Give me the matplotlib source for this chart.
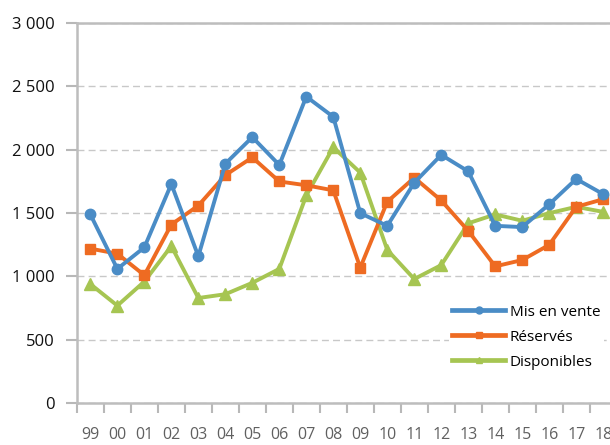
import matplotlib
matplotlib.use("Agg")
import matplotlib.pyplot as plt
from matplotlib.ticker import FixedLocator, FuncFormatter

years = ["99", "00", "01", "02", "03", "04", "05", "06", "07", "08",
         "09", "10", "11", "12", "13", "14", "15", "16", "17", "18"]
mis_en_vente = [1490, 1060, 1230, 1730, 1160, 1890, 2100, 1880, 2420, 2260,
                1500, 1400, 1740, 1960, 1830, 1400, 1390, 1570, 1770, 1650]
reserves = [1220, 1180, 1010, 1410, 1560, 1800, 1940, 1750, 1720, 1680,
            1070, 1590, 1780, 1600, 1360, 1080, 1130, 1250, 1550, 1610]
disponibles = [940, 770, 960, 1240, 830, 860, 950, 1060, 1640, 2020,
               1820, 1210, 980, 1090, 1420, 1490, 1440, 1500, 1550, 1510]

plt.rcParams['font.family'] = ['Open Sans', 'DejaVu Sans']

fig = plt.figure(figsize=(6.1, 4.45), dpi=100)
ax = fig.add_axes([0.126, 0.094, 0.885, 0.854])

x = list(range(len(years)))
ax.plot(x, mis_en_vente, color='#4a8cc6', lw=2.8, marker='o', ms=7.5, label='Mis en vente', zorder=4)
ax.plot(x, reserves, color='#ee6b22', lw=2.8, marker='s', ms=7.5, label='Réservés', zorder=3)
ax.plot(x, disponibles, color='#a6c552', lw=2.8, marker='^', ms=8.5, label='Disponibles', zorder=2)

ax.set_xlim(-0.5, len(years) - 0.5)
ax.set_ylim(0, 3000)
ax.set_yticks(range(0, 3001, 500))
ax.yaxis.set_major_formatter(FuncFormatter(lambda v, p: f"{int(v):,}".replace(",", " ")))
ax.set_xticks(x)
ax.set_xticklabels(years)
ax.xaxis.set_minor_locator(FixedLocator([i - 0.5 for i in range(len(years) + 1)]))
ax.tick_params(axis='x', which='major', length=0, pad=17, labelsize=11.5, labelcolor='#606060')
ax.tick_params(axis='x', which='minor', length=7, color='#b8b8b8', width=1.5)
ax.tick_params(axis='y', length=8, color='#b8b8b8', width=1.5, labelsize=12, labelcolor='#111111', pad=8)
for lab in ax.get_yticklabels():
    lab.set_fontweight(500)

ax.grid(axis='y', linestyle=(0, (5, 3)), color='#c8c8c8', lw=1)
ax.set_axisbelow(True)
ax.spines['right'].set_visible(False)
for s in ['left', 'bottom', 'top']:
    ax.spines[s].set_color('#bdbdbd')
    ax.spines[s].set_linewidth(1.8)

leg = ax.legend(loc='lower right', bbox_to_anchor=(0.99, 0.06), frameon=True,
                handlelength=3.5, fontsize=11, labelspacing=0.65, handletextpad=0.3,
                borderpad=0.2)
leg.get_frame().set_edgecolor('none')
leg.get_frame().set_facecolor('white')
leg.get_frame().set_alpha(1)
leg.set_zorder(5)
for line in leg.get_lines():
    line.set_markersize(5)
    line.set_linewidth(3.4)

fig.savefig("out.png", dpi=100)
